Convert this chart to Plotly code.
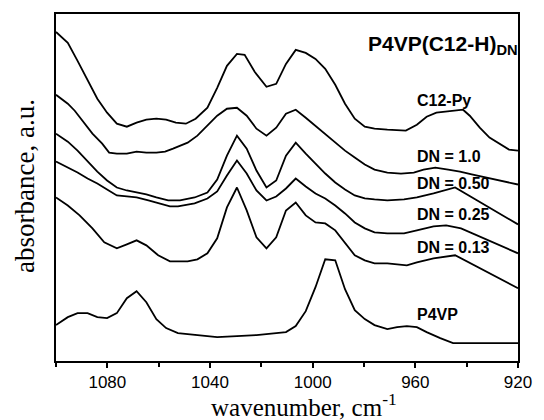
import plotly.graph_objects as go

# FTIR spectra (pyridine ring region), offset vertically for clarity
wn_c12py = [1100.0, 1095.4, 1091.6, 1087.7, 1083.9, 1080.1, 1076.3, 1072.4, 1068.6, 1064.8,
            1060.9, 1057.1, 1053.3, 1049.4, 1045.6, 1041.0, 1037.2, 1033.4, 1029.5, 1026.5,
            1022.6, 1018.0, 1014.2, 1010.4, 1006.6, 1002.7, 998.9, 995.1, 991.2, 987.4,
            983.6, 979.7, 975.9, 970.9, 963.7, 959.4, 955.6, 951.8, 947.2, 941.4,
            938.8, 934.9, 931.1, 927.3, 923.5, 920.0]
ab_c12py = [3.30, 3.19, 3.01, 2.81, 2.63, 2.49, 2.38, 2.35, 2.39, 2.42,
            2.43, 2.42, 2.39, 2.38, 2.43, 2.54, 2.74, 2.96, 3.08, 3.07,
            2.90, 2.75, 2.78, 2.98, 3.12, 3.09, 3.03, 2.93, 2.77, 2.58,
            2.43, 2.35, 2.33, 2.32, 2.31, 2.37, 2.45, 2.49, 2.50, 2.52,
            2.46, 2.34, 2.24, 2.18, 2.12, 2.11]

wn_dn100 = [1100.0, 1095.4, 1092.7, 1089.7, 1085.8, 1082.0, 1079.3, 1076.3, 1072.4, 1068.6,
            1064.8, 1060.9, 1057.5, 1054.4, 1048.7, 1044.9, 1041.0, 1037.2, 1033.4, 1029.5,
            1025.7, 1021.9, 1018.0, 1014.2, 1010.4, 1006.6, 1002.7, 998.9, 995.1, 991.2,
            987.4, 983.6, 979.7, 975.9, 970.9, 965.6, 960.6, 956.8, 952.2, 947.2,
            942.6, 937.6, 932.6, 927.3, 920.0]
ab_dn100 = [2.67, 2.58, 2.51, 2.41, 2.28, 2.18, 2.09, 2.08, 2.08, 2.10,
            2.09, 2.09, 2.10, 2.13, 2.19, 2.26, 2.36, 2.46, 2.53, 2.54,
            2.46, 2.33, 2.26, 2.34, 2.48, 2.52, 2.44, 2.36, 2.28, 2.19,
            2.11, 2.04, 1.97, 1.92, 1.89, 1.88, 1.89, 1.92, 1.94, 1.92,
            1.90, 1.87, 1.84, 1.81, 1.77]

wn_dn050 = [1100.0, 1095.4, 1091.6, 1087.7, 1083.9, 1080.1, 1076.3, 1072.4, 1068.6, 1064.8,
            1060.9, 1056.3, 1051.7, 1046.0, 1041.0, 1037.2, 1033.4, 1029.5, 1025.7, 1021.9,
            1018.0, 1014.2, 1010.4, 1006.6, 1002.7, 998.9, 995.1, 991.2, 987.4, 983.6,
            979.7, 975.9, 970.9, 964.4, 959.4, 952.9, 944.5, 920.0]
ab_dn050 = [2.28, 2.20, 2.11, 2.00, 1.90, 1.81, 1.74, 1.71, 1.69, 1.67,
            1.64, 1.61, 1.61, 1.64, 1.69, 1.82, 2.06, 2.26, 2.13, 1.91,
            1.74, 1.81, 2.06, 2.19, 2.08, 1.98, 1.88, 1.79, 1.72, 1.66,
            1.63, 1.62, 1.61, 1.62, 1.64, 1.68, 1.74, 1.37]

wn_dn025 = [1100.0, 1095.4, 1091.6, 1087.7, 1083.9, 1080.1, 1076.3, 1072.4, 1068.6, 1064.0,
            1060.2, 1055.6, 1052.5, 1046.0, 1041.0, 1037.2, 1033.4, 1029.5, 1025.7, 1021.9,
            1018.0, 1014.2, 1010.4, 1006.6, 1002.7, 998.9, 995.1, 991.2, 987.4, 983.6,
            979.7, 975.9, 970.9, 964.4, 959.4, 952.9, 948.0, 942.2, 920.0]
ab_dn025 = [2.00, 1.94, 1.89, 1.83, 1.78, 1.72, 1.66, 1.65, 1.64, 1.61,
            1.58, 1.55, 1.55, 1.58, 1.63, 1.70, 1.86, 2.01, 1.88, 1.71,
            1.61, 1.65, 1.73, 1.83, 1.75, 1.68, 1.63, 1.56, 1.48, 1.39,
            1.33, 1.29, 1.28, 1.28, 1.31, 1.35, 1.36, 1.33, 1.08]

wn_dn013 = [1100.0, 1095.4, 1090.8, 1085.8, 1081.2, 1076.3, 1072.4, 1068.6, 1064.8, 1060.2,
            1055.6, 1048.7, 1044.9, 1041.0, 1037.2, 1033.4, 1029.5, 1025.7, 1021.9, 1018.0,
            1014.2, 1010.4, 1006.6, 1002.7, 998.9, 995.1, 991.2, 987.4, 983.6, 979.7,
            975.9, 970.9, 967.1, 963.3, 959.4, 952.9, 944.5, 920.0]
ab_dn013 = [1.64, 1.56, 1.46, 1.33, 1.19, 1.13, 1.17, 1.21, 1.16, 1.06,
            1.00, 1.00, 1.02, 1.08, 1.23, 1.54, 1.74, 1.51, 1.24, 1.13,
            1.24, 1.51, 1.59, 1.46, 1.39, 1.38, 1.31, 1.18, 1.06, 1.01,
            0.98, 0.98, 0.97, 0.96, 0.99, 1.03, 1.06, 0.73]

wn_p4vp = [1100.0, 1095.4, 1091.6, 1087.7, 1083.9, 1080.1, 1076.3, 1072.4, 1068.6, 1064.8,
           1060.9, 1057.1, 1052.5, 1044.9, 1037.2, 1029.5, 1021.9, 1014.2, 1010.4, 1006.6,
           1002.7, 998.9, 995.1, 991.2, 987.4, 983.6, 979.7, 975.9, 970.9, 967.1,
           963.3, 959.4, 955.6, 950.3, 945.3, 920.0]
ab_p4vp = [0.36, 0.44, 0.48, 0.48, 0.44, 0.43, 0.48, 0.63, 0.70, 0.59,
           0.42, 0.33, 0.28, 0.26, 0.24, 0.25, 0.26, 0.28, 0.29, 0.35,
           0.50, 0.74, 1.02, 1.01, 0.72, 0.51, 0.42, 0.36, 0.32, 0.34,
           0.35, 0.34, 0.29, 0.23, 0.18, 0.18]

series = [
    ("C12-Py", wn_c12py, ab_c12py),
    ("DN = 1.0", wn_dn100, ab_dn100),
    ("DN = 0.50", wn_dn050, ab_dn050),
    ("DN = 0.25", wn_dn025, ab_dn025),
    ("DN = 0.13", wn_dn013, ab_dn013),
    ("P4VP", wn_p4vp, ab_p4vp),
]

# curve labels: (text, wavenumber, absorbance)
label_text = ["C12-Py", "DN = 1.0", "DN = 0.50", "DN = 0.25", "DN = 0.13", "P4VP"]
label_wn = [960, 960, 960, 960, 960, 960]
label_ab = [2.61, 2.05, 1.78, 1.47, 1.14, 0.47]

fig = go.Figure()
for name, x, y in series:
    fig.add_trace(go.Scatter(x=x, y=y, mode="lines", name=name,
                             line=dict(color="black", width=1.8), showlegend=False))

sans = "Liberation Sans, Arial, sans-serif"
serif = "Liberation Serif, Times New Roman, serif"

for t, xw, ya in zip(label_text, label_wn, label_ab):
    fig.add_annotation(x=xw, y=ya, text="<b>%s</b>" % t, showarrow=False,
                       xanchor="left", yanchor="middle",
                       font=dict(family=sans, size=16, color="black"))

fig.add_annotation(x=1.0, y=0.91, xref="paper", yref="paper", xshift=2,
                   text="<b>P4VP(C12-H)<sub>DN</sub></b>", showarrow=False,
                   xanchor="right", yanchor="middle",
                   font=dict(family=sans, size=21, color="black"))

fig.add_annotation(x=0.536, y=-0.126, xref="paper", yref="paper",
                   text="wavenumber, cm<sup>-1</sup>", showarrow=False,
                   xanchor="center", yanchor="middle",
                   font=dict(family=serif, size=25, color="black"))
fig.add_annotation(x=-0.066, y=0.503, xref="paper", yref="paper",
                   text="absorbance, a.u.", showarrow=False, textangle=-90,
                   xanchor="center", yanchor="middle",
                   font=dict(family=serif, size=27, color="black"))

fig.update_layout(
    width=544, height=420,
    margin=dict(l=56, r=18, t=13, b=59),
    paper_bgcolor="white", plot_bgcolor="white",
    xaxis=dict(range=[1100, 920], tick0=1080, dtick=40, ticks="outside", ticklen=5,
               tickwidth=1.5, tickcolor="black", showline=True, linecolor="black",
               linewidth=1.5, mirror=True, showgrid=False, zeroline=False,
               tickfont=dict(family=sans, size=17, color="black"),
               minor=dict(tick0=1100, dtick=20, ticks="outside", ticklen=4,
                          tickwidth=1.5, tickcolor="black", showgrid=False)),
    yaxis=dict(range=[0, 3.48], showticklabels=False, ticks="", showline=True,
               linecolor="black", linewidth=1.5, mirror=True, showgrid=False,
               zeroline=False),
)

fig.write_html("out.html")
